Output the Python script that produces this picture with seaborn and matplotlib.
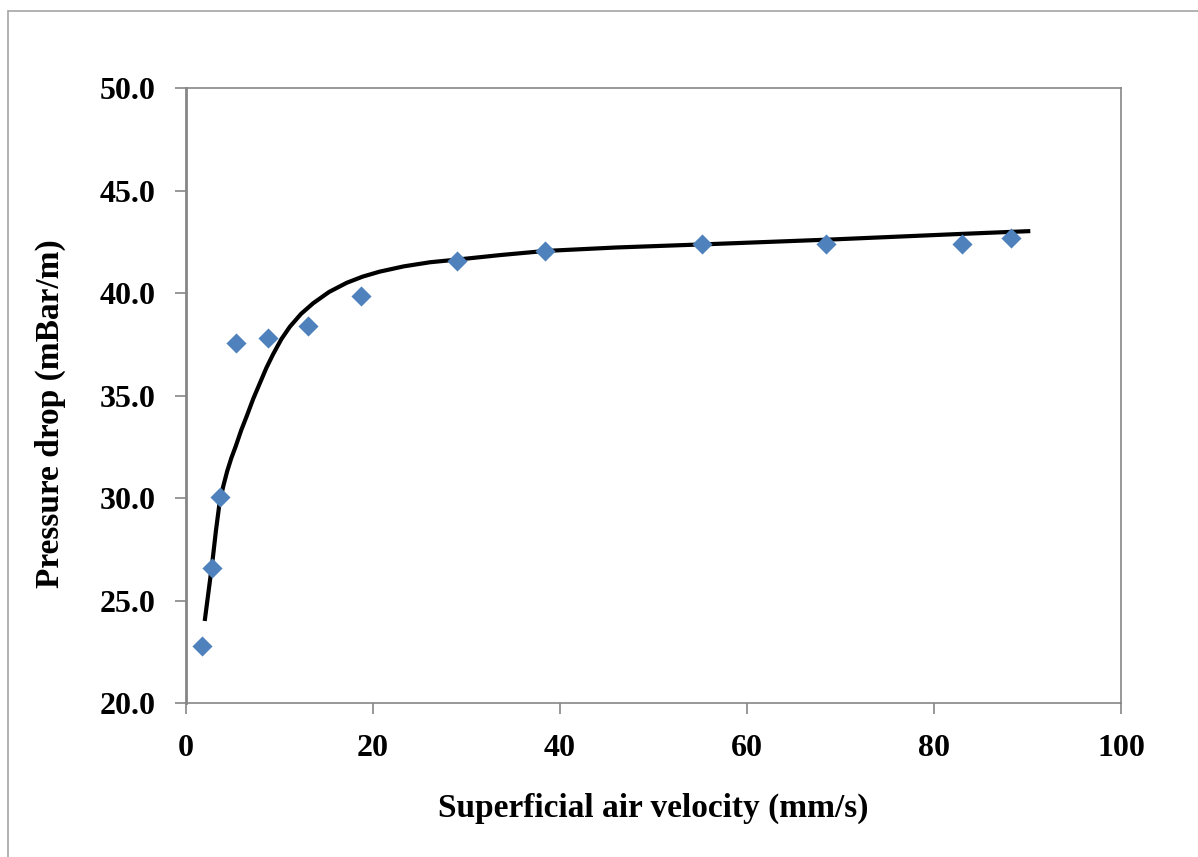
import matplotlib
matplotlib.use("Agg")
import matplotlib.pyplot as plt
import seaborn as sns
import pandas as pd
from matplotlib.lines import Line2D

# Measured data points
velocity = [1.7, 2.8, 3.6, 5.35, 8.8, 13.0, 18.7, 29.0, 38.4, 55.15, 68.5, 83.0, 88.2]
pressure = [22.78, 26.57, 30.03, 37.55, 37.79, 38.39, 39.85, 41.56, 42.07, 42.37, 42.37, 42.37, 42.66]

# Trend curve points
curve_x = [2.0, 2.4, 2.8, 3.2, 3.6, 4.0, 4.4, 4.85, 5.3, 5.9, 6.5, 7.2, 7.9, 8.6, 9.3,
           10.2, 11.1, 12.3, 13.6, 15.3, 17.2, 18.9, 20.7, 23.3, 26.1, 29.0, 33.6,
           38.4, 46.0, 55.2, 68.5, 82.8, 90.3]
curve_y = [24.0, 25.4, 26.8, 28.4, 29.8, 30.6, 31.3, 31.95, 32.5, 33.3, 34.0, 34.85, 35.6,
           36.35, 37.0, 37.75, 38.35, 38.98, 39.5, 40.05, 40.5, 40.8, 41.04, 41.3, 41.5,
           41.63, 41.85, 42.05, 42.22, 42.37, 42.6, 42.88, 43.02]

x_ticks = [0, 20, 40, 60, 80, 100]
y_ticks = [20.0, 25.0, 30.0, 35.0, 40.0, 45.0, 50.0]

sns.set_theme(style="white")
plt.rcParams['font.family'] = ['Liberation Serif', 'DejaVu Serif']

fig = plt.figure(figsize=(11.98, 8.57), dpi=100)
ax = fig.add_axes([186/1198, 1-703/857, (1121-186)/1198, (703-88)/857])

pts = pd.DataFrame({"x": velocity, "y": pressure})
crv = pd.DataFrame({"x": curve_x, "y": curve_y})

sns.lineplot(data=crv, x="x", y="y", ax=ax, color="black", linewidth=3.0,
             sort=False, estimator=None, solid_capstyle="butt", solid_joinstyle="round")
sns.scatterplot(data=pts, x="x", y="y", ax=ax, marker="D", s=105,
                color="#4F81BD", edgecolor="#4F81BD", linewidth=0, zorder=3)

ax.set_xlim(0, 100)
ax.set_ylim(20, 50)
ax.set_xticks(x_ticks)
ax.set_xticklabels([str(t) for t in x_ticks])
ax.set_yticks(y_ticks)
ax.set_yticklabels([f"{t:.1f}" for t in y_ticks])

spine_col = "#868686"
for side in ["top", "right", "bottom"]:
    ax.spines[side].set_visible(True)
    ax.spines[side].set_color(spine_col)
    ax.spines[side].set_linewidth(1.2)
ax.spines["left"].set_color(spine_col)
ax.spines["left"].set_linewidth(2.0)

ax.tick_params(axis="both", which="major", direction="out", length=8, width=1.2,
               color=spine_col, labelsize=23, pad=14, left=True, bottom=True)
for lab in ax.get_xticklabels() + ax.get_yticklabels():
    lab.set_fontweight("bold")
    lab.set_color("black")

ax.set_xlabel("Superficial air velocity (mm/s)", fontsize=24, fontweight="bold",
              color="black", labelpad=22)
ax.set_ylabel("Pressure drop (mBar/m)", fontsize=24, fontweight="bold",
              color="black")
ax.yaxis.set_label_coords(-0.128, 0.47)

# Partial outer frame (top and left edges of the chart area border)
fig.add_artist(Line2D([8/1198, 8/1198], [0, 1-11/857], transform=fig.transFigure,
                      color="#A6A6A6", linewidth=1.2))
fig.add_artist(Line2D([8/1198, 1], [1-11/857, 1-11/857], transform=fig.transFigure,
                      color="#A6A6A6", linewidth=1.2))

fig.savefig("out.png", dpi=100, facecolor="white")
